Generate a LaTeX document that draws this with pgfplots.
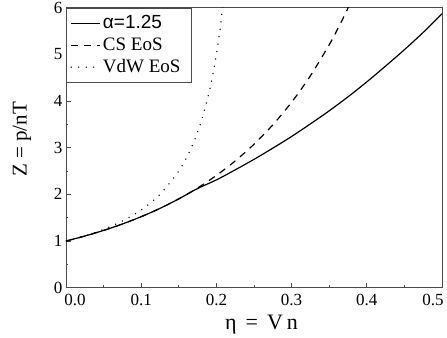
\documentclass[border=0pt]{standalone}
\usepackage{fontspec}
\setmainfont{Liberation Serif}
\newfontfamily\arial{Liberation Sans}
\usepackage{pgfplots}
\pgfplotsset{compat=1.18}
\begin{document}
\begin{tikzpicture}
\begin{axis}[
  scale only axis, width=376pt, height=280pt,
  xmin=0, xmax=0.5, ymin=0, ymax=6,
  xtick={0,0.1,0.2,0.3,0.4,0.5},
  xticklabels={\hspace*{18pt}0.0,0.1,0.2,0.3,0.4,0.5\hspace*{18pt}},
  ytick={0,1,2,3,4,5,6},
  minor x tick num=1, minor y tick num=1,
  xtick pos=bottom, ytick pos=left,
  tick align=inside,
  major tick length=5pt, minor tick length=2.5pt,
  axis line style={black!70, line width=0.9pt},
  every tick/.style={black!70, line width=0.8pt},
  /pgf/number format/assume math mode=true,
  ticklabel style={font=\fontsize{17}{19}\selectfont},
  xticklabel style={yshift=-2.5pt},
  xlabel={η\hspace{9pt}=\hspace{9pt}V\hspace{4pt}n},
  ylabel={Z = p/nT},
  xlabel style={font=\fontsize{22}{26}\selectfont, at={(axis description cs:0.52,-0.133)}, anchor=center},
  ylabel style={font=\fontsize{21}{25}\selectfont, at={(axis description cs:-0.117,0.53)}, anchor=center},
  legend style={at={(0,1)}, anchor=north west, draw=black!70, line width=0.9pt,
    font=\fontsize{19}{21}\selectfont, inner xsep=4pt, inner ysep=4pt,
    nodes={inner sep=2pt, text height=14.5pt, text depth=3.5pt},
    row sep=0pt},
  legend cell align=left,
  legend image code/.code={\draw[#1] (0pt,0pt) -- (29pt,0pt);},
]
\addplot[black, line width=1.2pt, smooth] coordinates {
(0,1) (0.025,1.1065) (0.05,1.2274) (0.075,1.3649) (0.1,1.5213) (0.125,1.6997)
(0.15,1.9037) (0.175,2.125) (0.2,2.31) (0.225,2.525) (0.25,2.75) (0.275,2.99)
(0.3,3.24) (0.325,3.51) (0.35,3.79) (0.375,4.09) (0.4,4.41) (0.425,4.75)
(0.45,5.10) (0.475,5.47) (0.5,5.87)};
\addlegendentry{\arial α=1.25}
\addplot[black, line width=1.2pt, dash pattern=on 7pt off 6pt, smooth] coordinates {
(0,1) (0.025,1.1065) (0.05,1.2274) (0.075,1.3649) (0.1,1.5213) (0.125,1.6997)
(0.15,1.9037) (0.175,2.1375) (0.2,2.4063) (0.225,2.7160) (0.25,3.0741)
(0.275,3.4896) (0.3,3.9738) (0.325,4.5401) (0.35,5.2057) (0.36,5.5044)
(0.37,5.8239) (0.375,5.9920) (0.38,6.166)};
\addlegendentry{CS EoS}
\addplot[black, line width=1.5pt, line cap=round, dash pattern=on 0pt off 7.5pt, smooth] coordinates {
(0,1) (0.025,1.1111) (0.05,1.25) (0.075,1.4286) (0.1,1.6667) (0.125,2)
(0.15,2.5) (0.16,2.7778) (0.17,3.125) (0.18,3.5714) (0.19,4.1667)
(0.195,4.5455) (0.2,5) (0.205,5.5556) (0.21,6.25)};
\addlegendentry{VdW EoS\hspace*{5pt}}
\end{axis}
\pgfresetboundingbox
\path[use as bounding box] ([shift={(-66pt,-50.3pt)}]current axis.south west) rectangle ([shift={(5pt,7.7pt)}]current axis.north east);
\end{tikzpicture}
\end{document}
